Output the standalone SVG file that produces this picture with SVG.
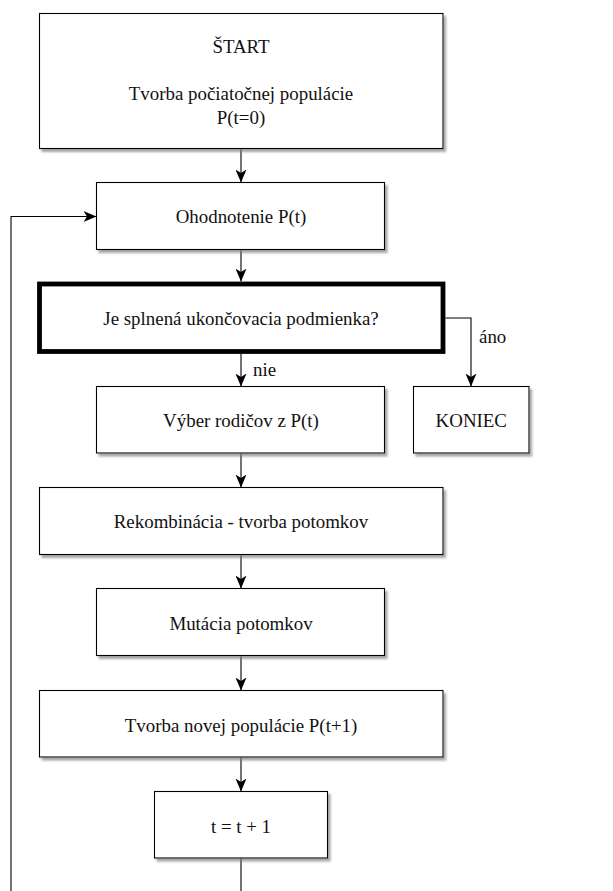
<svg xmlns="http://www.w3.org/2000/svg" width="613" height="891" viewBox="0 0 613 891">
<style>
.box{fill:#fff;stroke:#000;stroke-width:1.1;filter:url(#sh)}
.dec{fill:#fff;stroke:#000;stroke-width:4.8}
.t{font-family:"Liberation Serif","DejaVu Serif",serif;font-size:18.9px;fill:#111;text-anchor:middle}
.lbl{font-family:"Liberation Serif","DejaVu Serif",serif;font-size:18.9px;fill:#111}
.c{fill:none;stroke:#000;stroke-width:1.1}
</style>
<defs>
<filter id="sh" x="-5%" y="-5%" width="115%" height="125%">
<feDropShadow dx="2.5" dy="3" stdDeviation="0.8" flood-color="#808080" flood-opacity="0.7"/>
</filter>
<marker id="ar" markerUnits="userSpaceOnUse" viewBox="0 0 13 11" refX="13" refY="5.5" markerWidth="13" markerHeight="11" orient="auto">
<path d="M0,0 L13,5.5 L0,11 L3.5,5.5 Z" fill="#000"/>
</marker>
</defs>
<rect width="613" height="891" fill="#fff"/>
<g id="connectors">
<path class="c" d="M241,148.5 L241,182.5" marker-end="url(#ar)"/>
<path class="c" d="M241,249.5 L241,281.6" marker-end="url(#ar)"/>
<path class="c" d="M241,354 L241,386.5" marker-end="url(#ar)"/>
<path class="c" d="M445.5,318 L471,318 L471,386.5" marker-end="url(#ar)"/>
<path class="c" d="M241,453 L241,487.5" marker-end="url(#ar)"/>
<path class="c" d="M241,554.5 L241,588.5" marker-end="url(#ar)"/>
<path class="c" d="M241,655.5 L241,690.5" marker-end="url(#ar)"/>
<path class="c" d="M241,757 L241,791.5" marker-end="url(#ar)"/>
<path class="c" d="M241,858 L241,895 M11,895 L11,216.5 L96.5,216.5" marker-end="url(#ar)"/>
<text class="lbl" x="253" y="376">nie</text>
<text class="lbl" x="479" y="342.5">áno</text>
</g>
<g id="start">
<rect class="box" x="39.5" y="13.5" width="403.5" height="135"/>
<text class="t" x="241" y="53.3">ŠTART</text>
<text class="t" x="241" y="100">Tvorba počiatočnej populácie</text>
<text class="t" x="241" y="124">P(t=0)</text>
</g>
<g id="ohodnotenie">
<rect class="box" x="96.5" y="182.5" width="288" height="67"/>
<text class="t" x="241" y="223.3">Ohodnotenie P(t)</text>
</g>
<g id="podmienka">
<rect class="dec" x="39.5" y="284" width="403.5" height="67.5"/>
<text class="t" x="241" y="325">Je splnená ukončovacia podmienka?</text>
</g>
<g id="vyber">
<rect class="box" x="96.5" y="386.5" width="288" height="66.5"/>
<text class="t" x="241" y="426.7">Výber rodičov z P(t)</text>
</g>
<g id="koniec">
<rect class="box" x="413.5" y="386.5" width="115.5" height="66.5"/>
<text class="t" x="471.3" y="426.7">KONIEC</text>
</g>
<g id="rekombinacia">
<rect class="box" x="39.5" y="487.5" width="403.5" height="67"/>
<text class="t" x="241" y="528.3">Rekombinácia - tvorba potomkov</text>
</g>
<g id="mutacia">
<rect class="box" x="96.5" y="588.5" width="288" height="67"/>
<text class="t" x="241" y="630">Mutácia potomkov</text>
</g>
<g id="nova-populacia">
<rect class="box" x="39.5" y="690.5" width="403.5" height="66.5"/>
<text class="t" x="241" y="731.7">Tvorba novej populácie P(t+1)</text>
</g>
<g id="inkrement">
<rect class="box" x="154.5" y="791.5" width="173" height="66.5"/>
<text class="t" x="241" y="832.7">t = t + 1</text>
</g>
</svg>
